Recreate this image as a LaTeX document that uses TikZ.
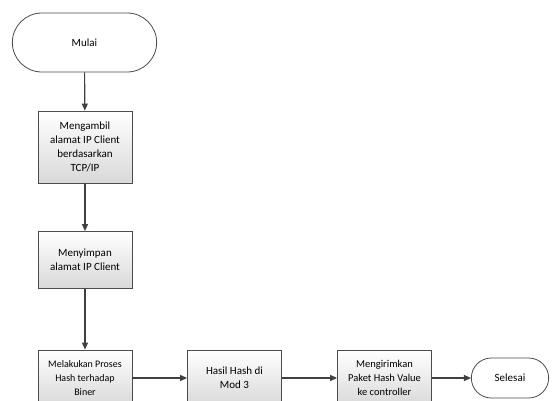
\documentclass[tikz,border=0pt]{standalone}
\usepackage{fontspec}
\setmainfont{Carlito}
\usetikzlibrary{arrows.meta}
\usetikzlibrary{shapes.misc}

\tikzset{
    prosesbox/.style = {draw = black!70, line width = 0.8pt, top color = white, bottom color = black!15,
        minimum width = 94pt, align = center, inner sep = 2pt, font = \fontsize{11}{14}\selectfont},
    terminal/.style = {draw = black!70, line width = 0.8pt, rounded rectangle, fill = white,
        font = \fontsize{11}{14}\selectfont},
    alur/.style = {draw = black!75, line width = 1.1pt, -{Triangle[length = 7pt, width = 6pt]}}
}

\begin{document}
\begin{tikzpicture}[x = 1pt, y = 1pt]
            \useasboundingbox (0, 0) rectangle (555, -401);
            \clip (0, 0) rectangle (555, -401);
            \node [terminal, minimum width = 151pt, minimum height = 59pt] (mulai) at (84.5, -42.5) {Mulai};
            \node [prosesbox, minimum height = 72pt] (ambil) at (85, -147) {Mengambil\\alamat IP Client\\berdasarkan\\TCP/IP};
            \node [prosesbox, minimum height = 57pt] (simpan) at (85, -260) {Menyimpan\\alamat IP Client};
            \node [prosesbox, minimum height = 56pt, font = \fontsize{10}{13.7}\selectfont] (proses) at (85, -378) {Melakukan Proses\\Hash terhadap\\Biner};
            \node [prosesbox, minimum height = 56pt] (hasil) at (234.5, -378) {Hasil Hash di\\Mod 3};
            \node [prosesbox, minimum height = 56pt, font = \fontsize{10.5}{13.7}\selectfont] (kirim) at (384.5, -378) {Mengirimkan\\Paket Hash Value\\ke controller};
            \node [terminal, minimum width = 84pt, minimum height = 40pt] (selesai) at (510, -378) {Selesai};
            \draw [alur] (mulai) -- (ambil);
            \draw [alur] (ambil) -- (simpan);
            \draw [alur] (simpan) -- (proses);
            \draw [alur] (proses) -- (hasil);
            \draw [alur] (hasil) -- (kirim);
            \draw [alur] (kirim) -- (selesai);
        \end{tikzpicture}
\end{document}
